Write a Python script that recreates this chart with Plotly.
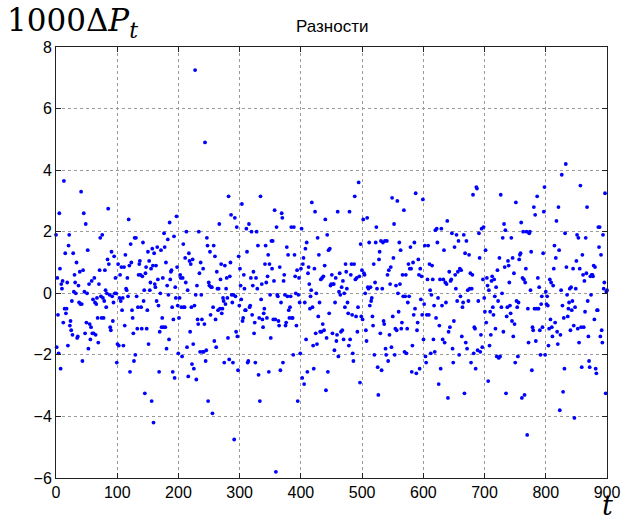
import numpy as np
import plotly.graph_objects as go

# values, in left-to-right order, per t-segment
seg1_t = (0, 136)
seg1 = [1.9,-1.75,0.5,-0.7,-1.95,2.6,0.8,-2.45,0.3,0.15,0.4,-0.95,3.65,-0.5,1.3,-0.65,-0.5,0.35,-1.7,1.55,
        1.9,-1.05,-0.9,-1.2,-0.25,-1.35,1.3,0.05,0.6,0.35,0,1.0,-1.45,-1.4,0.25,-0.3,0.7,-0.35,3.3,-0.35,
        -2.2,0.75,2.6,0.05,-1.3,2.25,-0.95,0,1.4,-1.8,0.3,-1.0,-1.5,-1.1,0.4,-1.3,-0.2,-1.3,0.5,-0.3,
        -1.35,-0.35,-0.15,-0.8,-1.6,0.3,0.75,1.8,-0.1,-0.8,1.9,-0.15,-0.8,-0.25,0.75,0.1,-0.45,0,1.1,2.75,
        0.95,-0.05,-1.1,-1.2,1.35,-0.1,-0.9,-0.3,1.2,0,0.5,0,-2.25,-1.65,0.95,-1.7,-0.15,0.6,-0.25,0.85,
        -0.55,-0.15,-1.7,0.85,-1.05,1.25,0.15,0.1,0.5,-0.1,2.4,0.9,-2.55,1.6,1.0,-0.55,-0.8,-1.3,-2.2,1.8,
        -2.0,1.8,-0.1,-1.15,-0.45,0.6,0.95]
seg2_t = (137, 289)
seg2 = [1.05,0.6,-0.45,-1.15,0.55,1.65,-0.25,0.1,-3.25,0.65,0.85,-1.15,-0.55,1.35,-1.65,1.05,0.1,0.35,0.8,-3.5,
        1.45,0.9,-4.2,1.3,0.3,0.2,0.9,-0.25,1.5,0.45,-0.4,-2.55,-1.25,0,1.4,-1.1,-0.8,0.5,-1.1,1.95,
        1.5,-1.1,1.0,-1.8,0.25,1.75,-0.05,-1.5,2.3,0.45,0.7,0.75,-0.45,-2.55,-0.85,1.85,-2.75,0.2,-0.15,2.5,
        0.85,-0.4,-1.95,-0.8,-0.15,0.6,0.5,-0.45,-2.05,0.5,1.6,-0.45,-0.45,1.15,0.35,2.0,-1.75,0.1,-2.7,1.3,
        1.05,-1.25,0.95,-0.45,-2.3,1.1,-1.65,-2.45,-0.4,7.25,-0.05,-2.8,0.25,-0.85,-1.0,2.0,0.65,-1.9,1.0,-0.05,
        -0.85,-1.9,0.8,-1.9,-1.0,4.9,-2.2,-1.85,1.8,1.55,-3.5,0.35,0.25,1.35,-0.7,0.2,0.2,-3.9,-0.45,1.55,
        -1.55,1.2,-0.85,-1.75,0.7,0.15,-0.55,0.15,2.25,-0.5,0.45,0.95,-0.65,-0.5,-0.15,-0.25,-2.25,0.9,-0.35,0.15,
        0.5,-0.15,-1.45,3.15,-2.15,0.55,1.0,2.55,-0.05,-0.3,-2.25]
seg3_t = (290, 442)
seg3 = [-0.05,-4.75,2.45,-0.1,-1.25,2.15,-1.4,-2.5,1.2,-0.4,0.8,0.25,-0.2,2.9,-0.9,-0.8,0.6,0.15,-0.55,-0.55,
        2.1,1.35,-2.25,-2.2,2.25,-0.45,-0.4,0.5,2.0,-0.7,0.25,0.7,-1.3,-0.95,-2.25,0.5,2.0,0.15,1.55,-2.65,
        -0.8,-3.5,3.15,-0.2,0.3,-0.85,-1.1,-0.65,-0.5,0.95,1.55,0.35,-0.8,0.55,1.25,-2.55,0.95,-0.05,-1.45,1.7,
        0.8,1.7,-0.85,0.4,2.7,-0.85,-5.8,2.15,-0.05,-0.1,-0.9,-1.05,0.85,-2.5,-0.3,2.6,2.45,-2.25,0.4,0.6,
        -0.05,-1.05,-0.95,1.5,-0.1,1.25,-0.55,-0.8,-0.45,-0.1,2.15,-0.8,-0.8,-2.0,2.15,1.25,0.55,0,-1.05,0.75,
        -3.5,-0.05,0.5,-0.3,-1.95,0.8,2.1,-2.75,0.95,1.15,-2.95,-0.3,1.45,-1.5,1.65,-2.55,0.65,0.85,0.3,-0.5,
        -0.1,0.1,2.95,-0.45,-1.7,-2.45,0.8,2.65,-1.3,0,-1.65,1.8,-0.75,1.25,-0.3,-1.25,0.45,-1.25,0.5,-1.0,
        0.55,-1.2,0.9,2.4,-3.15,-1.45]
seg4_t = (443, 595)
seg4 = [1.9,-2.55,1.4,-0.65,1.45,0.25,0.3,0.6,-1.3,0.3,0.3,-1.85,-0.3,0.5,-1.55,-1.35,2.65,-2.05,0.05,0.65,
        -0.05,-1.25,0.2,-1.2,0.4,-1.5,0,-0.45,0.95,0.7,0.15,-0.3,-0.65,-1.7,2.65,-1.5,0.6,0.95,-0.7,-1.95,
        -2.2,0.95,3.15,0.45,-0.75,0.5,-1.25,-0.45,3.6,0.55,-2.9,1.6,-0.75,0.75,-0.85,2.4,0.65,0.6,0,-1.2,
        -1.55,2.45,0.2,0.15,1.65,-0.4,0.2,-0.25,-0.15,-0.75,-1.05,0.95,-2.0,0.35,1.65,2.15,0.15,-2.4,-3.3,1.1,
        1.35,-1.3,1.7,-2.5,0.15,1.65,-0.9,-1.0,1.7,-1.8,-2.0,1.7,0.6,-2.2,0.75,-1.35,0.3,0.85,-1.75,3.1,
        -0.75,1.15,2.25,-2.0,-1.15,0.25,-1.2,3.0,0,-0.6,1.65,0.3,1.4,-1.15,-0.95,0.6,-0.1,2.7,-1.9,-0.1,
        0.6,-1.95,-1.15,-0.3,0.95,-0.1,0.8,1.5,0.8,-2.55,-1.7,1.0,-0.7,1.65,-0.5,3.25,-2.6,-1.2,-0.95,1.1,
        0.6,-2.45,0.8]
seg5_t = (596, 748)
seg5 = [-0.2,0.55,-0.7,3.05,-1.5,-0.35,1.55,-2.05,-2.25,-0.7,0.45,1.55,-0.7,0.95,0.1,-1.95,-0.05,0.9,0.45,-1.5,
        -0.4,-1.9,2.05,-0.8,2.1,1.65,-0.15,-2.95,-1.05,0.45,-2.45,2.1,-0.4,-1.5,0.45,1.4,-1.6,0.35,-0.3,0.3,
        2.35,-3.4,-1.25,0.7,-1.1,0.4,0.45,1.95,-1.8,-2.25,-0.9,1.5,0.6,0.15,1.9,-0.25,0.7,1.7,-2.0,0.8,
        -0.1,0.75,-1.4,-0.45,-0.3,1.9,-3.25,1.3,-1.6,1.7,-1.8,0.1,-0.25,1.25,0.15,0.65,-2.25,0.15,0.6,3.2,
        -1.95,-1.1,-1.15,-2.45,3.45,3.4,-1.85,-0.25,1.95,1.15,-1.9,-1.35,2.1,-1.75,0.45,2.15,-0.15,-0.6,1.4,-0.95,
        0.5,0.25,-2.85,0.1,-1.7,-0.6,-1.35,0.4,0.55,-0.45,-0.7,0.45,-0.1,-1.15,0.2,-2.05,0.75,-0.25,-2.1,1.15,
        -2.05,3.2,-0.45,0,1.8,-1.25,2.25,0.85,2.05,-3.25,-0.75,-0.45,1.05,0.9,0.35,-0.4,-0.65,1.8,-0.9,1.15,
        -1.4,0.65]
seg6_t = (749, 900)
seg6 = [-1.0,-2.25,2.95,-0.25,-0.45,-2.05,-0.3,1.1,1.25,1.3,2.3,-3.4,0.5,2.0,0.45,-3.3,0.35,0.8,2.0,-4.6,
        -0.5,-1.6,1.95,2.0,0.1,1.35,-2.5,-1.1,-1.2,2.8,-0.5,2.55,-1.55,-0.5,3.15,0.5,-0.5,0.2,-1.2,-2.0,
        -0.35,-0.1,-1.1,1.3,2.65,3.45,-2.0,0.05,-0.35,-0.1,-0.4,-1.7,-1.15,0.45,-0.85,0.35,-1.1,-1.4,0.25,0.8,
        1.55,-0.95,1.15,2.35,-1.25,-1.65,2.8,1.4,-3.8,-1.35,0.1,3.85,-0.4,-3.2,-0.8,-2.45,1.95,4.2,0.85,-0.05,
        -0.75,-0.5,-0.3,0.15,-1.2,0.2,-0.55,-0.25,0.8,-1.05,-4.05,-0.45,0.15,1.05,1.9,-1.15,1.8,-1.6,0.8,3.5,
        -1.1,-2.4,1.25,0.6,-1.1,0.4,-0.6,1.8,0.65,2.8,-0.25,-1.4,-2.2,-2.4,0.55,-0.05,0.6,0.6,0.55,0.9,
        -0.85,0.85,-2.45,-2.6,-0.55,-0.55,2.15,1.5,2.15,-1.4,1.25,-1.2,-1.6,1.9,0.15,0.35,3.25,-3.25,0.05,0.1]

segments = [(seg1_t, seg1), (seg2_t, seg2), (seg3_t, seg3),
            (seg4_t, seg4), (seg5_t, seg5), (seg6_t, seg6)]

t_all, y_all = [], []
for (a, b), vals in segments:
    t_all.extend(np.linspace(a, b, len(vals)).tolist())
    y_all.extend(vals)

x_ticks = list(range(0, 901, 100))
y_ticks = list(range(-6, 9, 2))

fig = go.Figure()
fig.add_trace(go.Scatter(x=t_all, y=y_all, mode="markers",
                         marker=dict(color="#0000FF", size=3.8, line=dict(width=0)),
                         hoverinfo="x+y", cliponaxis=False))

axis_common = dict(showline=True, linecolor="#222222", linewidth=1, mirror="ticks",
                   ticks="inside", ticklen=5, tickcolor="#222222",
                   showgrid=True, gridcolor="#9a9a9a", gridwidth=1, griddash="dot",
                   zeroline=False, automargin=False,
                   tickfont=dict(family="Liberation Sans, Arial", size=16, color="#000"))

fig.update_xaxes(range=[0, 900], tickvals=x_ticks, **axis_common)
fig.update_yaxes(range=[-6, 8], tickvals=y_ticks, **axis_common)

fig.update_layout(
    width=621, height=524,
    margin=dict(l=56, r=14, t=47, b=46, autoexpand=False),
    paper_bgcolor="white", plot_bgcolor="white",
    showlegend=False,
    annotations=[
        dict(text="1000Δ<i>P</i><sub><i>t</i></sub>", xref="paper", yref="paper",
             x=0.0, y=1.0, xanchor="left", yanchor="bottom", xshift=-51, yshift=2, showarrow=False,
             font=dict(family="DejaVu Serif, Liberation Serif", size=31, color="#000")),
        dict(text="Разности", xref="paper", yref="paper",
             x=0.5, y=1.0, xanchor="center", yanchor="bottom", yshift=9, showarrow=False,
             font=dict(family="Liberation Sans, Arial", size=17, color="#000")),
        dict(text="<i>t</i>", xref="paper", yref="paper",
             x=1.0, y=0.0, xanchor="center", yanchor="bottom", yshift=-45, xshift=0, showarrow=False,
             font=dict(family="DejaVu Serif, Liberation Serif", size=27, color="#000")),
    ],
)

fig.write_html("out.html")
